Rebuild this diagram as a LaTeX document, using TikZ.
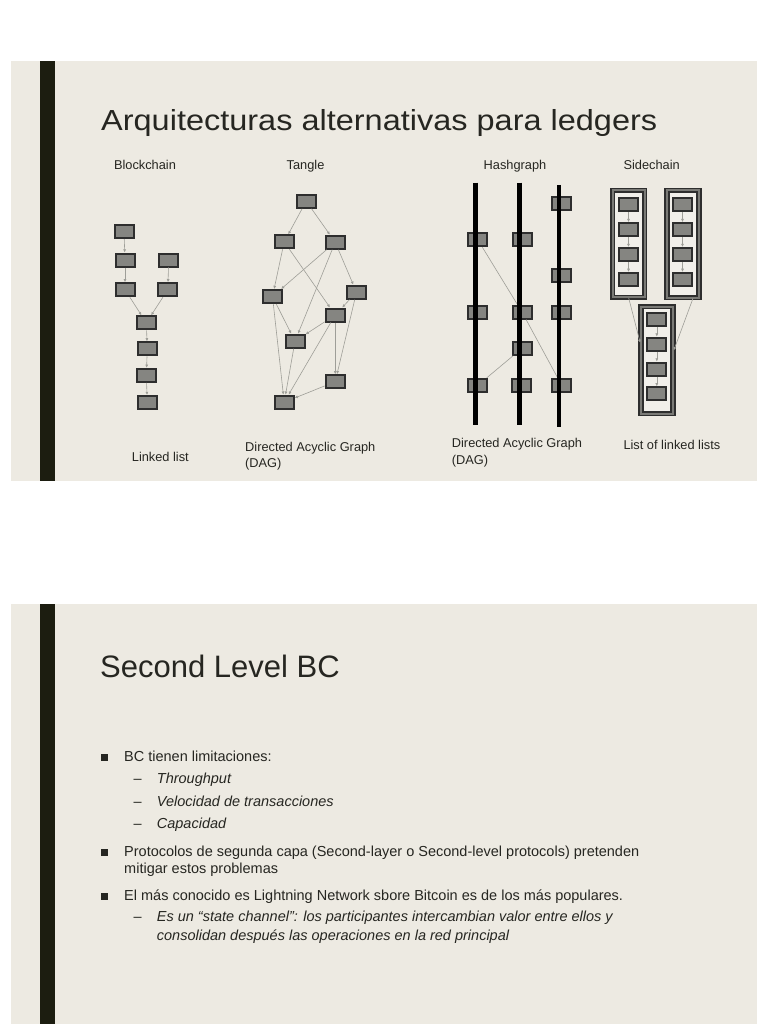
\documentclass[tikz,border=0pt]{standalone}
\usepackage{fontspec}
\setmainfont{Liberation Sans}
\newfontfamily\titlefont[FakeStretch=1.12]{Liberation Sans}
\usetikzlibrary{arrows.meta}
\definecolor{slidebg}{HTML}{EDEAE2}
\definecolor{barcolor}{HTML}{1C1D10}
\definecolor{inkcolor}{HTML}{262621}
\definecolor{boxfill}{HTML}{858581}
\definecolor{boxline}{HTML}{2E2E2E}
\definecolor{linkcolor}{HTML}{9E9E98}
\definecolor{framegap}{HTML}{7A7A76}
\definecolor{framein}{HTML}{F1EFEA}

\begin{document}
\begin{tikzpicture}[x=1pt, y=-1pt,
    every node/.style={text=inkcolor, inner sep=0pt},
    lab/.style={font=\fontsize{12.8}{16.5}\selectfont},
    body/.style={font=\fontsize{14.5}{17}\selectfont, anchor=base west},
    blk/.style={draw=boxline, fill=boxfill, line width=2pt,
        minimum width=19pt, minimum height=13pt},
    link/.style={draw=linkcolor, line width=0.6pt, -{Latex[length=3.2pt, width=3pt]}},
    hashlink/.style={draw=linkcolor, line width=0.6pt},
    chainframe/.style={draw=boxline, double=framegap, double distance=2pt,
        line width=1.6pt, fill=framein, minimum width=32pt, minimum height=107pt},
    sq/.style={fill=inkcolor, minimum size=7pt},
]
\fill[white] (0,0) rectangle (768,1024);
\useasboundingbox (0,0) rectangle (768,1024);

% the two slides
\fill[slidebg] (11,61) rectangle (757,481);
\fill[barcolor] (40,61) rectangle (54.5,481);
\fill[slidebg] (11,604) rectangle (757,1024);
\fill[barcolor] (40,604) rectangle (54.5,1024);

% ---- slide 1 ----
\node[anchor=base west, font=\titlefont\fontsize{29}{34}\selectfont] (title1) at (101,130.5)
     {Arquitecturas alternativas para ledgers};

\node[lab, anchor=base] (blockchain) at (145,169.5) {Blockchain};
\node[lab, anchor=base] (tangle) at (305.5,169.5) {Tangle};
\node[lab, anchor=base] (hashgraph) at (515,169.5) {Hashgraph};
\node[lab, anchor=base] (sidechain) at (651.7,169.5) {Sidechain};

% blockchain: two short forks merging into one list
\foreach \n/\x/\y in {b1/124/231.6, b2/125/260, b3/168.7/260, b4/125/289.7, b5/167.8/289.7,
                      b6/146.3/322.8, b7/147.3/348.8, b8/146.3/375.3, b9/147.3/402.5}
    \node[blk] (\n) at (\x,\y) {};
\foreach \a/\b in {b1/b2, b2/b4, b3/b5, b4/b6, b5/b6, b6/b7, b7/b8, b8/b9}
    \draw[link] (\a) -- (\b);

% tangle
\foreach \n/\x/\y in {t1/306.2/201.2, t2/284.2/241.8, t3/335.2/242.2, t4/272.5/296.5,
                      t5/356.5/292.2, t6/335.2/315, t7/295/341.2, t8/335.2/381.7, t9/284.2/402.2}
    \node[blk] (\n) at (\x,\y) {};
\foreach \a/\b in {t1/t2, t1/t3, t2/t4, t2/t6, t3/t4, t3/t7, t3/t5, t4/t7,
                   t4/t9, t5/t6, t5/t8, t6/t7, t6/t8, t6/t9, t7/t9, t8/t9}
    \draw[link] (\a) -- (\b);

% hashgraph: events on three members
\foreach \n/\x/\y in {h1/477.8/239.8, h2/522/239.8, h3/561.7/203.2, h4/561.7/275.3,
                      h5/477.8/312, h6/522/312, h7/561.7/312, h8/522/348.3,
                      h9/477.8/385.3, h10/521.7/385.3, h11/561.7/385.3}
    \node[blk] (\n) at (\x,\y) {};
\foreach \a/\b in {h1/h6, h6/h11, h9/h8}
    \draw[hashlink] (\a) -- (\b);
\foreach \x/\ya/\yb in {475.3/182.7/425, 519.7/182.7/425, 559/185/426.7}
    \draw[black, line width=4.6pt] (\x,\ya) -- (\x,\yb);

% sidechain: three framed lists
\node[chainframe] (sa) at (628.7,243.7) {};
\node[chainframe] (sb) at (683,244) {};
\node[chainframe] (sc) at (657,360.3) {};
\foreach \c/\x/\y in {sa/628.5/204.7, sb/682.5/204.7, sc/656.8/319.2}{
    \foreach \i in {1,...,4}
        \node[blk] (\c\i) at (\x,{\y+(\i-1)*24.9}) {};
    \foreach \i [evaluate=\i as \j using int(\i+1)] in {1,2,3}
        \draw[link] (\c\i) -- (\c\j);}
\draw[link] (sa.south) -- ([yshift=17.6pt]sc.west);
\draw[link] ([xshift=10pt]sb.south) -- ([yshift=10pt]sc.east);

% two-line labels sit on the baseline of their last line
\node[lab, anchor=base west] (linkedlist) at (131.7,461.5) {Linked list};
\node[lab, anchor=base west, align=left] (dagone) at (245,467.5) {Directed Acyclic Graph\\(DAG)};
\node[lab, anchor=base west, align=left] (dagtwo) at (451.7,464.3) {Directed Acyclic Graph\\(DAG)};
\node[lab, anchor=base west] (listoflists) at (623.3,449.5) {List of linked lists};

% ---- slide 2 ----
\node[anchor=base west, font=\fontsize{31}{36}\selectfont] (title2) at (100,677) {Second Level BC};

\node[sq] (bul1) at (104,757.5) {};
\node[body] (limits) at (124,761.7) {BC tienen limitaciones:};
\foreach \t/\y [count=\k] in {Throughput/783.3, Velocidad de transacciones/806, Capacidad/828.3}{
    \node[body] (dash\k) at (133.5,\y) {--};
    \node[body, font=\fontsize{14.5}{17}\selectfont\itshape] (sub\k) at (156.7,\y) {\t};}

\node[sq] (bul2) at (104,852) {};
\node[body, align=left] (proto) at (124,873)
     {Protocolos de segunda capa (Second-layer o Second-level protocols) pretenden\\mitigar estos problemas};

\node[sq] (bul3) at (104,896) {};
\node[body] (lightning) at (124,900)
     {El más conocido es Lightning Network sbore Bitcoin es de los más populares.};
\node[body] (dash4) at (133.5,921.7) {--};
\node[body, align=left, font=\fontsize{14.5}{18.3}\selectfont\itshape] (channel) at (156.7,940)
     {Es un “state channel”: los participantes intercambian valor entre ellos y\\consolidan después las operaciones en la red principal};
\end{tikzpicture}
\end{document}
